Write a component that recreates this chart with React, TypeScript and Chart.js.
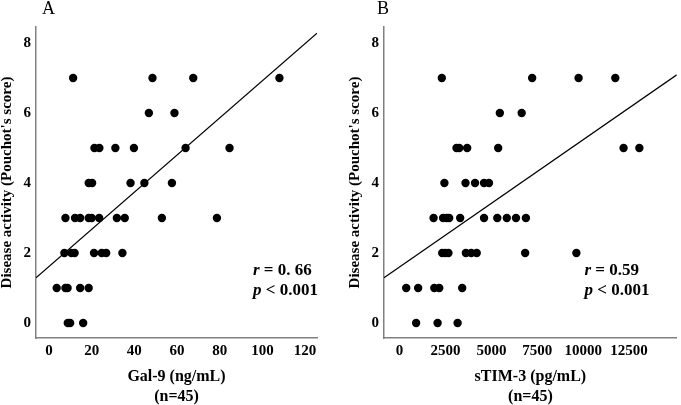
import React, { useEffect, useRef } from "react";
import { Chart, registerables } from "chart.js";

Chart.register(...registerables);

// Panel A: Gal-9 (ng/mL) vs disease activity
const gal9Values = [
  11.3, 48.5, 67.6, 108,
  46.8, 58.8,
  21.3, 23.6, 31.1, 39.8, 64, 84.6,
  18.6, 20.2, 38.2, 44.7, 57.6,
  7.7, 12.2, 14.6, 18.6, 20, 23.5, 31.8, 35.5, 52.9, 78.7,
  7.2, 10.5, 12, 21.1, 24.7, 26.8, 34.4,
  3.6, 7.7, 8.7, 14.6, 18.6,
  8.8, 9.9, 16,
];
const gal9Scores = [
  7, 7, 7, 7,
  6, 6,
  5, 5, 5, 5, 5, 5,
  4, 4, 4, 4, 4,
  3, 3, 3, 3, 3, 3, 3, 3, 3, 3,
  2, 2, 2, 2, 2, 2, 2,
  1, 1, 1, 1, 1,
  0, 0, 0,
];
const gal9FitX = [-6.1, 125.6];
const gal9FitY = [1.29, 8.28];
const gal9Ticks = [0, 20, 40, 60, 80, 100, 120];

// Panel B: sTIM-3 (pg/mL) vs disease activity
const tim3Values = [
  2300, 7220, 9750, 11750,
  5460, 6650,
  3100, 3250, 3680, 5370, 12200, 13060,
  2440, 3590, 4110, 4600, 4870,
  1850, 2370, 2570, 2700, 3300, 4600, 5320, 5840, 6340, 6880,
  2320, 2480, 2660, 3610, 3900, 4200, 6840, 9630,
  360, 1010, 1890, 2160, 3410,
  900, 2070, 3160,
];
const tim3Scores = [
  7, 7, 7, 7,
  6, 6,
  5, 5, 5, 5, 5, 5,
  4, 4, 4, 4, 4,
  3, 3, 3, 3, 3, 3, 3, 3, 3, 3,
  2, 2, 2, 2, 2, 2, 2, 2,
  1, 1, 1, 1, 1,
  0, 0, 0,
];
const tim3FitX = [-850, 15100];
const tim3FitY = [1.29, 7.09];
const tim3Ticks = [0, 2500, 5000, 7500, 10000, 12500];

const scoreTicks = [0, 2, 4, 6, 8];
const yTitle = "Disease activity (Pouchot's score)";
const SERIF = "'Liberation Serif', 'Times New Roman', serif";

type PanelCfg = {
  letter: string;
  letterX: number;
  xs: number[];
  ys: number[];
  fitX: number[];
  fitY: number[];
  xMin: number;
  xMax: number;
  xTicks: number[];
  xTitle: string[];
  rText: string;
  pText: string;
  statX: number;
  padRight: number;
  width: number;
};

const annotate = {
  id: "annotate",
  afterDraw(chart: any, _args: any, opts: any) {
    const ctx = chart.ctx;
    ctx.save();
    ctx.fillStyle = "#000";
    ctx.textBaseline = "alphabetic";
    ctx.textAlign = "left";
    ctx.font = `18px ${SERIF}`;
    ctx.fillText(opts.letter, opts.letterX, 14);
    const lines = [
      ["r", opts.rText, 274.5],
      ["p", opts.pText, 294.5],
    ];
    for (const [it, rest, y] of lines as any) {
      ctx.font = `italic bold 17px ${SERIF}`;
      ctx.fillText(it, opts.statX, y);
      const w = ctx.measureText(it).width;
      ctx.font = `bold 17px ${SERIF}`;
      ctx.fillText(rest, opts.statX + w, y);
    }
    ctx.restore();
  },
};

function Panel({ cfg, left }: { cfg: PanelCfg; left: number }) {
  const ref = useRef<HTMLCanvasElement>(null);
  useEffect(() => {
    if (!ref.current) return;
    const pts = cfg.xs.map((x, i) => ({ x, y: cfg.ys[i] }));
    const fit = cfg.fitX.map((x, i) => ({ x, y: cfg.fitY[i] }));
    const chart = new Chart(ref.current, {
      type: "scatter",
      data: {
        datasets: [
          {
            type: "line",
            data: fit,
            borderColor: "#000",
            borderWidth: 1.2,
            pointRadius: 0,
            fill: false,
          } as any,
          {
            data: pts,
            backgroundColor: "#000",
            borderWidth: 0,
            pointRadius: 4.2,
          },
        ],
      },
      options: {
        responsive: false,
        animation: false,
        layout: { padding: { left: 0, top: 27, right: cfg.padRight, bottom: 0 } },
        plugins: {
          legend: { display: false },
          tooltip: { enabled: false },
          annotate: {
            letter: cfg.letter,
            letterX: cfg.letterX,
            rText: cfg.rText,
            pText: cfg.pText,
            statX: cfg.statX,
          },
        } as any,
        scales: {
          x: {
            type: "linear",
            min: cfg.xMin,
            max: cfg.xMax,
            grid: { display: false, drawTicks: false },
            border: { display: true, color: "#808080", width: 1.5 },
            afterBuildTicks: (scale: any) => {
              scale.ticks = cfg.xTicks.map((v) => ({ value: v }));
            },
            afterFit: (scale: any) => {
              scale.height = 405 - 338;
            },
            ticks: {
              padding: 4,
              color: "#000",
              maxRotation: 0,
              autoSkip: false,
              font: { family: SERIF, size: 15, weight: "bold" },
              callback: (v: any) => String(v),
            },
            title: {
              display: true,
              text: cfg.xTitle,
              color: "#000",
              font: { family: SERIF, size: 16, weight: "bold", lineHeight: 1.25 },
              padding: { top: 0, bottom: -2 },
            },
          },
          y: {
            type: "linear",
            min: -0.43,
            max: 8.457,
            grid: { display: false, drawTicks: false },
            border: { display: true, color: "#808080", width: 1.5 },
            afterBuildTicks: (scale: any) => {
              scale.ticks = scoreTicks.map((v) => ({ value: v }));
            },
            afterFit: (scale: any) => {
              scale.width = 36;
            },
            ticks: {
              padding: 5,
              color: "#000",
              autoSkip: false,
              font: { family: SERIF, size: 15, weight: "bold" },
              callback: (v: any) => String(v),
            },
            title: {
              display: true,
              text: yTitle,
              color: "#000",
              font: { family: SERIF, size: 15, weight: "bold", lineHeight: 1 },
              padding: { top: 0, bottom: 0 },
            },
          },
        },
      },
      plugins: [annotate],
    });
    return () => chart.destroy();
  }, [cfg]);
  return (
    <canvas
      ref={ref}
      width={cfg.width}
      height={405}
      style={{ position: "absolute", left, top: 0, width: cfg.width, height: 405 }}
    />
  );
}

const panelA: PanelCfg = {
  letter: "A",
  letterX: 42,
  xs: gal9Values,
  ys: gal9Scores,
  fitX: gal9FitX,
  fitY: gal9FitY,
  xMin: -6.1,
  xMax: 125.6,
  xTicks: gal9Ticks,
  xTitle: ["Gal-9 (ng/mL)", "(n=45)"],
  rText: " = 0. 66",
  pText: " < 0.001",
  statX: 253,
  padRight: 23,
  width: 340,
};

const panelB: PanelCfg = {
  letter: "B",
  letterX: 29,
  xs: tim3Values,
  ys: tim3Scores,
  fitX: tim3FitX,
  fitY: tim3FitY,
  xMin: -850,
  xMax: 15100,
  xTicks: tim3Ticks,
  xTitle: ["sTIM-3 (pg/mL)", "(n=45)"],
  rText: " = 0.59",
  pText: " < 0.001",
  statX: 236.5,
  padRight: 1,
  width: 333,
};

export default function App() {
  return (
    <div
      style={{
        position: "fixed",
        left: 0,
        top: 0,
        width: 681,
        height: 405,
        background: "#fff",
        overflow: "hidden",
      }}
    >
      <Panel cfg={panelA} left={0} />
      <Panel cfg={panelB} left={348} />
    </div>
  );
}
